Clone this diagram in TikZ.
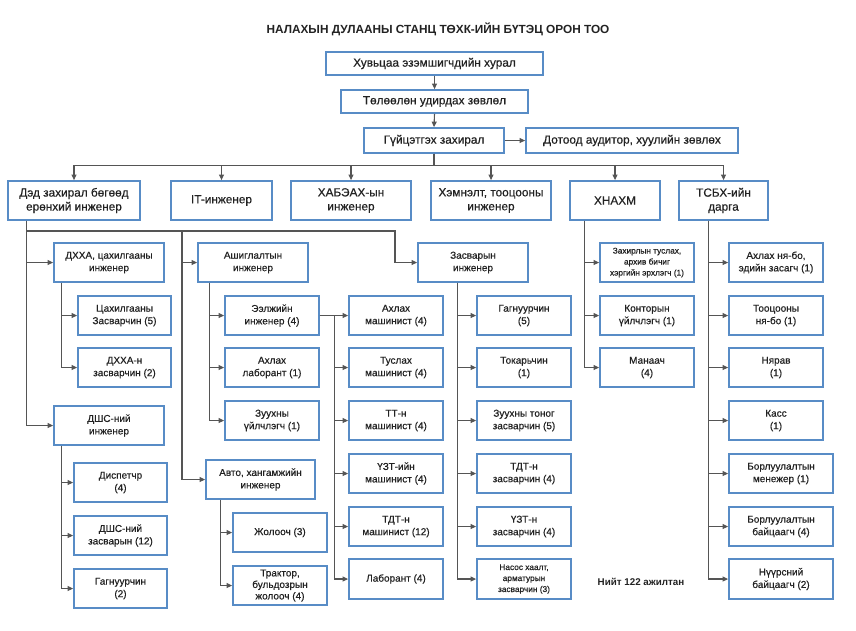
\documentclass[tikz,border=0pt]{standalone}
\usepackage{fontspec}
\setmainfont{Liberation Sans}
\newfontfamily\bxfont{Liberation Sans}[FakeBold=0.5]
\usetikzlibrary{arrows.meta}
\definecolor{boxblue}{RGB}{88,140,198}
\definecolor{linegray}{RGB}{85,85,85}
\definecolor{txt}{RGB}{34,34,34}
\newcommand\mybox[7][]{\node[box,#1,minimum width={#5-#3},minimum height={#6-#4}] (#2) at ({(#3+#5)/2},{(#4+#6)/2}) {#7};}
\begin{document}
\begin{tikzpicture}[x=1pt,y=-1pt,
  box/.style={draw=boxblue,line width=1.8pt,fill=white,align=center,inner sep=1pt,
    text=txt,font=\bxfont\fontsize{10}{12.5}\selectfont},
  bigtxt/.style={font=\bxfont\fontsize{11.8}{14}\selectfont},
  smalltxt/.style={font=\bxfont\fontsize{8.3}{11}\selectfont},
  arr/.style={draw=linegray,line width=1.1pt,-{Triangle[length=5.5pt,width=5pt]}},
  ln/.style={draw=linegray,line width=1.1pt}]
\useasboundingbox (0,0) rectangle (856,630);
\node[font=\bfseries\fontsize{11.8}{13}\selectfont,text=txt] (title) at (438,29) {НАЛАХЫН ДУЛААНЫ СТАНЦ ТӨХК-ИЙН БҮТЭЦ ОРОН ТОО};
% top chain
\mybox[bigtxt]{A}{326}{52}{543}{75}{Хувьцаа эзэмшигчдийн хурал}
\mybox[bigtxt]{B}{341}{90}{528}{113}{Төлөөлөн удирдах зөвлөл}
\mybox[bigtxt]{C}{364}{128}{504}{153}{Гүйцэтгэх захирал}
\mybox[bigtxt]{D}{526}{128}{738}{153}{Дотоод аудитор, хуулийн зөвлөх}
% level 2
\mybox[bigtxt]{L1}{8}{181}{140}{220}{Дэд захирал бөгөөд\\ерөнхий инженер}
\mybox[bigtxt]{L2}{171}{181}{272}{220}{IT-инженер}
\mybox[bigtxt]{L3}{291}{181}{411}{220}{ХАБЭАХ-ын\\инженер}
\mybox[bigtxt]{L4}{431}{181}{551}{220}{Хэмнэлт, тооцооны\\инженер}
\mybox[bigtxt]{L5}{570}{181}{660}{220}{ХНАХМ}
\mybox[bigtxt]{L6}{679}{181}{768}{220}{ТСБХ-ийн\\дарга}
% level 3
\mybox{dxxa}{54}{243}{164}{282}{ДХХА, цахилгааны\\инженер}
\mybox{ash}{198}{243}{308}{282}{Ашиглалтын\\инженер}
\mybox{zas}{418}{243}{528}{282}{Засварын\\инженер}
\mybox[smalltxt]{zah}{600}{243}{694}{282}{Захирлын туслах,\\архив бичиг\\хэргийн эрхлэгч (1)}
\mybox{ahlnb}{729}{243}{823}{282}{Ахлах ня-бо,\\эдийн засагч (1)}
% column A
\mybox{cah}{78}{296}{171}{335}{Цахилгааны\\Засварчин (5)}
\mybox{dxxan}{78}{348}{171}{387}{ДХХА-н\\засварчин (2)}
\mybox{dshs}{54}{406}{164}{445}{ДШС-ний\\инженер}
\mybox{disp}{74}{463}{167}{502}{Диспетчр\\(4)}
\mybox{dshsz}{74}{516}{167}{555}{ДШС-ний\\засварын (12)}
\mybox{gag2}{74}{569}{167}{608}{Гагнуурчин\\(2)}
% column B
\mybox{eelj}{225}{296}{319}{335}{Ээлжийн\\инженер (4)}
\mybox{ahlab}{225}{348}{319}{387}{Ахлах\\лаборант (1)}
\mybox{zuuh}{225}{401}{319}{440}{Зуухны\\үйлчлэгч (1)}
\mybox{avto}{206}{460}{315}{499}{Авто, хангамжийн\\инженер}
\mybox{jol}{233}{513}{327}{552}{Жолооч (3)}
\mybox[font=\bxfont\fontsize{10}{11.5}\selectfont]{trak}{233}{566}{327}{605}{Трактор,\\бульдозрын\\жолооч (4)}
% column C
\mybox{ahmash}{349}{296}{443}{335}{Ахлах\\машинист (4)}
\mybox{tusl}{349}{348}{443}{387}{Туслах\\машинист (4)}
\mybox{tt}{349}{401}{443}{440}{ТТ-н\\машинист (4)}
\mybox{uzt}{349}{454}{443}{493}{ҮЗТ-ийн\\машинист (4)}
\mybox{tdt}{349}{507}{443}{546}{ТДТ-н\\машинист (12)}
\mybox{lab}{349}{559}{443}{599}{Лаборант (4)}
% column D
\mybox{gag5}{477}{296}{571}{335}{Гагнуурчин\\(5)}
\mybox{tok}{477}{348}{571}{387}{Токарьчин\\(1)}
\mybox{zuuht}{477}{401}{571}{440}{Зуухны тоног\\засварчин (5)}
\mybox{tdtz}{477}{454}{571}{493}{ТДТ-н\\засварчин (4)}
\mybox{uztz}{477}{507}{571}{546}{ҮЗТ-н\\засварчин (4)}
\mybox[smalltxt]{nasos}{477}{559}{571}{599}{Насос хаалт,\\арматурын\\засварчин (3)}
% column E
\mybox{kont}{600}{296}{694}{335}{Конторын\\үйлчлэгч (1)}
\mybox{man}{600}{348}{694}{387}{Манаач\\(4)}
% column F
\mybox{toots}{729}{296}{823}{335}{Тооцооны\\ня-бо (1)}
\mybox{nyarav}{729}{348}{823}{387}{Нярав\\(1)}
\mybox{kass}{729}{401}{823}{440}{Касс\\(1)}
\mybox{borm}{729}{454}{833}{493}{Борлуулалтын\\менежер (1)}
\mybox{borb}{729}{507}{833}{546}{Борлуулалтын\\байцаагч (4)}
\mybox{nuurs}{729}{559}{833}{599}{Нүүрсний\\байцаагч (2)}
\node[font=\bfseries\fontsize{9.8}{11}\selectfont,text=txt] (total) at (641,582) {Нийт 122 ажилтан};
% connectors top
\draw[arr] (A.south) -- (B.north);
\draw[arr] (B.south) -- (C.north);
\draw[arr] (C.east) -- (D.west);
\foreach \n in {L1,L2,L3,L4,L5,L6}{\draw[arr] (C.south) -- ++(0,12) -| (\n.north);}
% Дэд захирал branches
\coordinate (j1) at (395,231);
\coordinate (j2) at (182,231);
\draw[arr] ([xshift=19pt]L1.south west) |- (j1) |- (zas.west);
\draw[arr] ([xshift=19pt]L1.south west) |- (dxxa.west);
\draw[arr] ([xshift=19pt]L1.south west) |- (dshs.west);
\draw[arr] (j2) |- (ash.west);
\draw[arr] (j2) |- (avto.west);
\foreach \n in {cah,dxxan}{\draw[arr] ([xshift=8pt]dxxa.south west) |- (\n.west);}
\foreach \n in {disp,dshsz,gag2}{\draw[arr] ([xshift=8pt]dshs.south west) |- (\n.west);}
\foreach \n in {eelj,ahlab,zuuh}{\draw[arr] ([xshift=12pt]ash.south west) |- (\n.west);}
\foreach \n in {jol,trak}{\draw[arr] ([xshift=15pt]avto.south west) |- (\n.west);}
\foreach \n in {ahmash,tusl,tt,uzt,tdt,lab}{\draw[arr] (eelj.east) -- ++(15,0) |- (\n.west);}
\foreach \n in {gag5,tok,zuuht,tdtz,uztz,nasos}{\draw[arr] ([xshift=40pt]zas.south west) |- (\n.west);}
\foreach \n in {zah,kont,man}{\draw[arr] ([xshift=15pt]L5.south west) |- (\n.west);}
\foreach \n in {ahlnb,toots,nyarav,kass,borm,borb,nuurs}{\draw[arr] ([xshift=30pt]L6.south west) |- (\n.west);}
\end{tikzpicture}
\end{document}
